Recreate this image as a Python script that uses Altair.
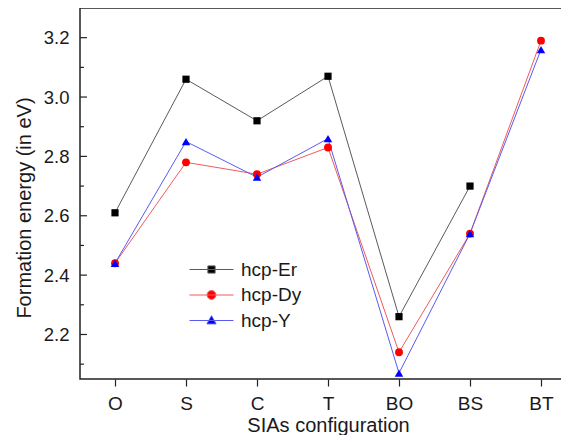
import json
import altair as alt
import pandas as pd

categories = ["O", "S", "C", "T", "BO", "BS", "BT"]
series_names = ["hcp-Er", "hcp-Dy", "hcp-Y"]
er_values = [2.61, 3.06, 2.92, 3.07, 2.26, 2.70, None]
dy_values = [2.44, 2.78, 2.74, 2.83, 2.14, 2.54, 3.19]
yy_values = [2.44, 2.85, 2.73, 2.86, 2.07, 2.54, 3.16]
y_major_ticks = [2.2, 2.4, 2.6, 2.8, 3.0, 3.2]
y_minor_ticks = [2.1, 2.3, 2.5, 2.7, 2.9, 3.1]

marker_colors = ["#000000", "#ff0000", "#0000ff"]
line_colors = ["#5a5a5a", "#f05a5a", "#5a5af0"]
marker_shapes = ["square", "circle", "triangle-up"]
marker_sizes = [52, 72, 85]
legend_paths = [
    "M-5.5,0H5.5M-0.9,-0.9H0.9V0.9H-0.9Z",
    "M-5.5,0H5.5M-1.1,0A1.1,1.1,0,1,0,1.1,0A1.1,1.1,0,1,0,-1.1,0Z",
    "M-5.5,0H5.5M0,-1.2L1.15,0.85H-1.15Z",
]

rows = []
for name, vals in zip(series_names, [er_values, dy_values, yy_values]):
    for i, (c, v) in enumerate(zip(categories, vals)):
        if v is not None:
            rows.append({"config": c, "idx": i, "energy": v, "series": name})
df = pd.DataFrame(rows)
major_df = pd.DataFrame({"energy": y_major_ticks})
minor_df = pd.DataFrame({"energy": y_minor_ticks})

FONT = "Liberation Sans"
TXT = "#1a1a1a"
W, H = 497, 371

xscale = alt.Scale(domain=[-0.493, 6.507], nice=False, zero=False)
yscale = alt.Scale(domain=[2.05, 3.3], nice=False, zero=False)

x_main = alt.X(
    "idx:Q", scale=xscale,
    axis=alt.Axis(
        title="SIAs configuration", values=list(range(len(categories))),
        labelExpr=json.dumps(categories) + "[datum.value]",
        labelFontSize=19, titleFontSize=20,
        labelFont=FONT, titleFont=FONT, labelColor=TXT, titleColor=TXT,
        titleFontWeight="normal", domain=False, grid=False,
        tickSize=7, tickColor="#222", tickWidth=1.2, labelPadding=8, titlePadding=2,
        titleX=248,
    ),
)
x_plain = alt.X("idx:Q", scale=xscale)

y_main = alt.Y(
    "energy:Q", scale=yscale,
    axis=alt.Axis(
        values=y_major_ticks, format=".1f", ticks=False,
        domain=False, grid=False, labelFontSize=18.5, labelFont=FONT, labelColor=TXT,
        labelPadding=11, title="Formation energy (in eV)", titleFontSize=20,
        titleFont=FONT, titleColor=TXT, titleFontWeight="normal", titlePadding=9,
        titleY=199.5,
    ),
)
y_plain = alt.Y("energy:Q", scale=yscale)

lines = alt.Chart(df).mark_line(strokeWidth=1).encode(
    x=x_main,
    y=y_main,
    stroke=alt.Stroke("series:N", scale=alt.Scale(domain=series_names, range=line_colors), legend=None),
    order=alt.Order("idx:Q"),
)

points = alt.Chart(df).mark_point(filled=True, opacity=1, strokeWidth=0).encode(
    x=x_plain,
    y=y_plain,
    fill=alt.Fill("series:N", scale=alt.Scale(domain=series_names, range=marker_colors), legend=None),
    shape=alt.Shape("series:N", scale=alt.Scale(domain=series_names, range=marker_shapes), legend=None),
    size=alt.Size("series:N", scale=alt.Scale(domain=series_names, range=marker_sizes), legend=None),
)


def tick_rules(data, x0, x1):
    return alt.Chart(data).mark_rule(color="#222", strokeWidth=1.2).encode(
        y=y_plain, x=alt.value(x0), x2=alt.value(x1),
    )


tick_layers = [
    tick_rules(major_df, 0, 7),
    tick_rules(minor_df, 0, 4),
    tick_rules(major_df, W - 7, W),
    tick_rules(minor_df, W - 4, W),
]

leg = alt.Legend(
    orient="none", legendX=122, legendY=252, title=None, padding=0,
    symbolSize=64, symbolStrokeWidth=1, labelFontSize=19, labelFont=FONT,
    labelColor=TXT, labelOffset=20, rowPadding=5.5,
)

legend_layer = alt.Chart(df).transform_filter("false").mark_point(
    filled=True, opacity=1, strokeWidth=1
).encode(
    x=x_plain,
    y=y_plain,
    fill=alt.Fill("series:N", scale=alt.Scale(domain=series_names, range=marker_colors), legend=leg),
    stroke=alt.Stroke("series:N", scale=alt.Scale(domain=series_names, range=line_colors), legend=leg),
    shape=alt.Shape("series:N", scale=alt.Scale(domain=series_names, range=legend_paths), legend=leg),
)

chart = alt.layer(lines, points, *tick_layers, legend_layer).resolve_scale(
    fill="independent", stroke="independent", shape="independent"
).properties(
    width=W, height=H,
    padding={"left": 72, "top": 0, "right": -16, "bottom": 56},
    autosize=alt.AutoSizeParams(type="none"),
    background="white",
).configure_view(stroke="#222", strokeWidth=1.5)

chart.save("out.html", embed_options={"renderer": "svg", "actions": False})
